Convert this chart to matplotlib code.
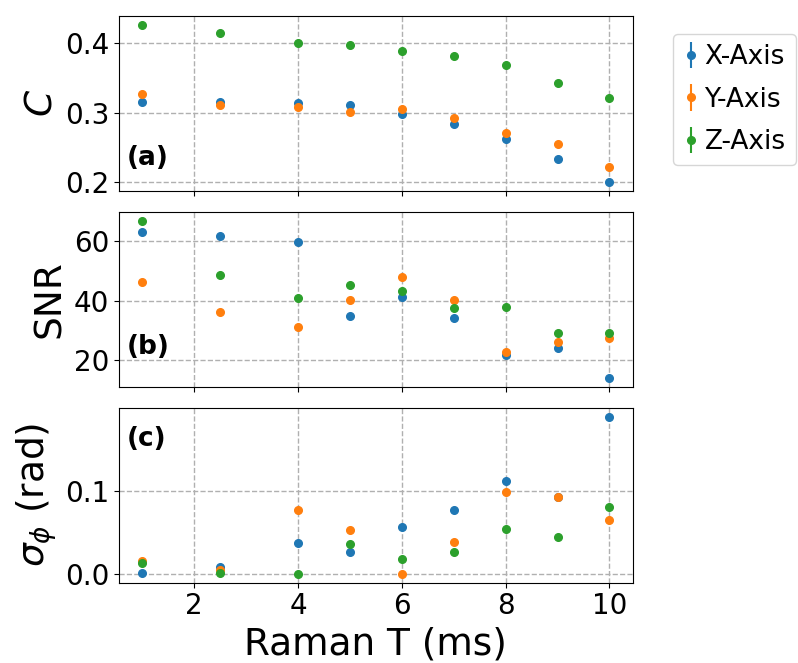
import matplotlib
matplotlib.use("Agg")
import matplotlib.pyplot as plt
import numpy as np

# Raman interrogation time (ms)
raman_t = [1, 2.5, 4, 5, 6, 7, 8, 9, 10]

# contrast C
c_x = [0.316, 0.316, 0.314, 0.311, 0.298, 0.284, 0.262, 0.233, 0.201]
c_y = [0.327, 0.311, 0.308, 0.301, 0.306, 0.293, 0.271, 0.255, 0.222]
c_z = [0.426, 0.415, 0.400, 0.397, 0.389, 0.382, 0.369, 0.343, 0.321]

# signal to noise ratio
snr_x = [63.0, 61.6, 59.6, 34.9, 41.1, 34.3, 21.7, 24.3, 14.2]
snr_y = [46.4, 36.1, 31.1, 40.1, 47.9, 40.1, 22.8, 26.1, 27.5]
snr_z = [66.7, 48.5, 41.0, 45.4, 43.2, 37.7, 37.8, 29.1, 29.2]

# phase noise (rad)
sig_x = [0.001, 0.008, 0.037, 0.027, 0.057, 0.077, 0.112, 0.092, 0.189]
sig_y = [0.016, 0.005, 0.077, 0.053, 0.000, 0.038, 0.099, 0.092, 0.065]
sig_z = [0.013, 0.001, 0.000, 0.036, 0.018, 0.026, 0.054, 0.045, 0.080]

# small uncertainties (mostly hidden behind the markers)
err_c = 0.002
err_snr = 0.4
err_sig = 0.001

labels = ["X-Axis", "Y-Axis", "Z-Axis"]
colors = ["#1f77b4", "#ff7f0e", "#2ca02c"]

fig, axs = plt.subplots(3, 1, sharex=True, figsize=(7.98, 6.63), dpi=100)
fig.subplots_adjust(left=0.149, right=0.793, top=0.976, bottom=0.121, hspace=0.12)

panels = [
    ((c_x, c_y, c_z), err_c, r"$C$", "(a)", 0.19),
    ((snr_x, snr_y, snr_z), err_snr, "SNR", "(b)", 0.23),
    ((sig_x, sig_y, sig_z), err_sig, r"$\sigma_\phi$ (rad)", "(c)", 0.82),
]

for ax, (series, err, ylab, tag, ty) in zip(axs, panels):
    for vals, lab, col in zip(series, labels, colors):
        ax.errorbar(raman_t, vals, yerr=err, fmt="o", ms=5.5, color=col, label=lab)
    ax.set_ylabel(ylab, fontsize=27)
    ax.grid(True, ls="--", color="#b0b0b0", lw=1)
    ax.tick_params(labelsize=20)
    ax.text(0.016, ty, tag, transform=ax.transAxes, fontsize=19,
            fontweight="bold", va="center", ha="left")

axs[0].set_yticks([0.2, 0.3, 0.4])
axs[1].set_yticks([20, 40, 60])
axs[2].set_yticks([0.0, 0.1])
axs[2].set_xticks([2, 4, 6, 8, 10])
axs[2].set_xlabel("Raman T (ms)", fontsize=27)

axs[0].legend(loc="upper left", bbox_to_anchor=(1.052, 0.974), fontsize=19,
              handlelength=0.6, handletextpad=0.2, labelspacing=0.62)

fig.savefig("out.png", dpi=100)
